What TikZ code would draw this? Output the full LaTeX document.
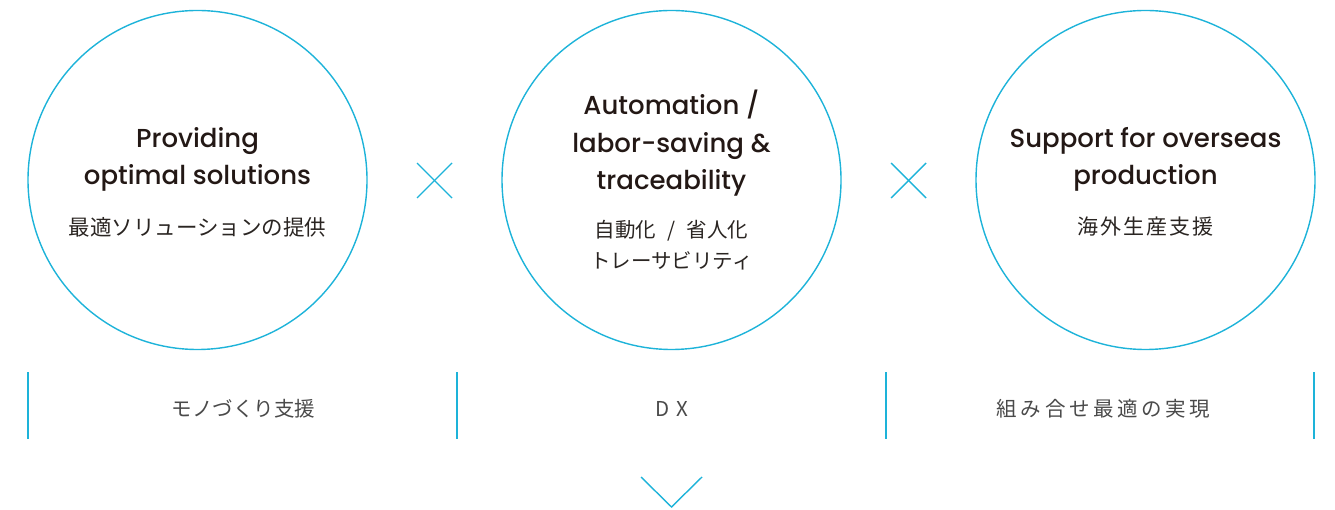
\documentclass[tikz,border=0pt]{standalone}
\usepackage{fontspec}
\setmainfont{Poppins}[UprightFont=* Medium]
\newfontfamily\jp{Noto Sans CJK JP}
\definecolor{cy}{HTML}{1DB3D9}
\definecolor{ink}{HTML}{231815}
\definecolor{jpink}{HTML}{2A2522}
\definecolor{jbink}{HTML}{4A4A4A}
\begin{document}
\begin{tikzpicture}[x=1pt,y=-1pt]
\useasboundingbox (0,0) rectangle (1335,510);
\tikzset{
  ring/.style={draw=cy, line width=1.4pt, circle, minimum size=339pt, inner sep=0pt},
  en/.style={anchor=base, inner sep=0pt, text=ink, font=\fontsize{26}{32}\selectfont},
  ja/.style={anchor=base, inner sep=0pt, text=jpink, font=\jp\fontsize{21.5}{24}\selectfont},
  jm/.style={anchor=base, inner sep=0pt, text=jpink, font=\jp\fontsize{20.5}{24}\selectfont},
  jr/.style={anchor=base, inner sep=0pt, text=jpink, font=\jp\fontsize{21}{24}\selectfont\addfontfeature{LetterSpace=9.5}},
  jb/.style={anchor=base, inner sep=0pt, text=jbink, font=\jp\fontsize{20.5}{24}\selectfont},
  jbr/.style={anchor=base, inner sep=0pt, text=jbink, font=\jp\fontsize{20.5}{24}\selectfont\addfontfeature{LetterSpace=17.6}},
  cyline/.style={draw=cy, line width=1.4pt},
}
% circles
\node[ring] (c1) at (197.5,180) {};
\node[ring] (c2) at (671.5,180) {};
\node[ring] (c3) at (1145.5,180) {};
% left texts
\node[en] (t1a) at (197.5,148) {Providing};
\node[en] (t1b) at (197.5,185) {optimal solutions};
\node[ja] (t1c) at (197.5,236) {最適ソリューションの提供};
% middle texts
\node[en] (t2a) at (671.5,115) {Automation /};
\node[en] (t2b) at (671.5,153) {labor-saving \&};
\node[en] (t2c) at (671.5,190) {traceability};
\node[jm] (t2d) at (671.5,238) {自動化\hspace{11pt}/\hspace{11pt}省人化};
\node[jm] (t2e) at (671.5,269) {トレーサビリティ};
% right texts
\node[en] (t3a) at (1145.5,148) {Support for overseas};
\node[en] (t3b) at (1145.5,185) {production};
\node[jr] (t3c) at (1145.5,235) {海外生産支援};
% crosses
\coordinate (xa1) at (417,163); \coordinate (xa2) at (452,198);
\coordinate (xa3) at (417,198); \coordinate (xa4) at (452,163);
\coordinate (xb1) at (891,163); \coordinate (xb2) at (926,198);
\coordinate (xb3) at (891,198); \coordinate (xb4) at (926,163);
\draw[cyline] (xa1) -- (xa2); \draw[cyline] (xa3) -- (xa4);
\draw[cyline] (xb1) -- (xb2); \draw[cyline] (xb3) -- (xb4);
% vertical separators
\foreach \n/\x in {1/28,2/457,3/886,4/1314}{
  \coordinate (s\n t) at (\x,372);
  \coordinate (s\n b) at (\x,439);
  \draw[cyline] (s\n t) -- (s\n b);
}
% bottom labels
\node[jb] (b1) at (243.5,416) {モノづくり支援};
\node[jb] (b2) at (671.5,416) {D\hspace{7pt}X};
\node[jbr] (b3) at (1103.5,416) {組み合せ最適の実現};
% chevron
\coordinate (v1) at (641,477);
\coordinate (v2) at (671.5,507);
\coordinate (v3) at (702,477);
\draw[cyline] (v1) -- (v2) -- (v3);
\end{tikzpicture}
\end{document}
